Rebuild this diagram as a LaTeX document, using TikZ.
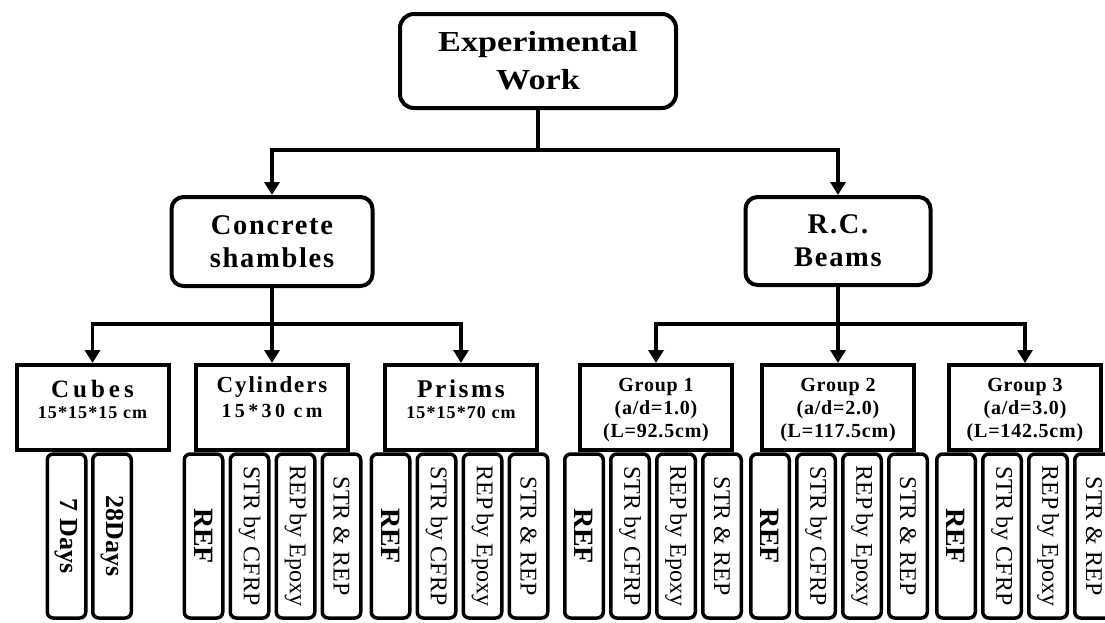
\documentclass[tikz,border=0pt]{standalone}
\usepackage{fontspec}
\setmainfont{Liberation Serif}
\usetikzlibrary{arrows.meta}

\newcommand{\reftxt}{{\fontsize{28}{28}\selectfont\bfseries REF}}

\tikzset{
  head/.style={draw, line width=4pt, rounded corners=14pt, align=center, inner sep=0pt},
  grp/.style={draw, line width=4pt, minimum width=152pt, minimum height=85pt, inner sep=0pt},
  sub/.style={draw, line width=3.5pt, rounded corners=6pt, rotate=-90, minimum width=164pt,
    minimum height=38.5pt, inner sep=0pt, font=\fontsize{24}{24}\selectfont},
  link/.style={line width=3.5pt, -{Triangle[width=15pt,length=13pt]}},
}

\begin{document}
\begin{tikzpicture}[x=1pt, y=-1pt]
  \useasboundingbox (0,0) rectangle (1105,622);

  % Top levels
  \node[head, minimum width=276pt, minimum height=94pt,
    font=\fontsize{29}{38}\selectfont\bfseries\addfontfeature{FakeStretch=1.18}]
    (exp) at (538,61) {Experimental\\Work};
  \node[head, rounded corners=12pt, minimum width=201pt, minimum height=89pt,
    font=\fontsize{28.5}{33}\selectfont\bfseries\addfontfeature{LetterSpace=6}]
    (conc) at (272,241.5) {Concrete\\shambles};
  \node[head, rounded corners=12pt, minimum width=185pt, minimum height=88pt,
    font=\fontsize{28.5}{33}\selectfont\bfseries\addfontfeature{LetterSpace=6}]
    (rc) at (838,241) {R.C.\\Beams};

  % Specimen boxes
  \node[grp] (cubes) at (92.5,407.5) {};
  \node[grp] (cyl) at (272,407.5) {};
  \node[grp] (pri) at (461,407.5) {};
  \node[grp] (ga) at (656,407.5) {};
  \node[grp] (gb) at (838,407.5) {};
  \node[grp] (gc) at (1025,407.5) {};

  \node[align=center, font=\fontsize{25}{21}\selectfont\bfseries\addfontfeature{LetterSpace=16}]
    (cubest) at (92.5,399) {Cubes\\{\fontsize{18}{21}\selectfont\addfontfeature{LetterSpace=6}15*15*15 cm}};
  \node[align=center, font=\fontsize{23}{25}\selectfont\bfseries\addfontfeature{LetterSpace=8}]
    (cylt) at (272,397.5) {Cylinders\\{\fontsize{20}{25}\selectfont\addfontfeature{LetterSpace=17}15*30 cm}};
  \node[align=center, font=\fontsize{25.5}{21}\selectfont\bfseries\addfontfeature{LetterSpace=10}]
    (prit) at (461,399) {Prisms\\{\fontsize{18}{21}\selectfont\addfontfeature{LetterSpace=6}15*15*70 cm}};
  \node[align=center, font=\fontsize{20}{23}\selectfont\bfseries\addfontfeature{LetterSpace=4}]
    (gat) at (656,410) {Group 1\\(a/d=1.0)\\(L=92.5cm)};
  \node[align=center, font=\fontsize{20}{23}\selectfont\bfseries\addfontfeature{LetterSpace=4}]
    (gbt) at (838,410) {Group 2\\(a/d=2.0)\\(L=117.5cm)};
  \node[align=center, font=\fontsize{20}{23}\selectfont\bfseries\addfontfeature{LetterSpace=4}]
    (gct) at (1025,410) {Group 3\\(a/d=3.0)\\(L=142.5cm)};

  % Test series
  \node[sub, font=\fontsize{26}{26}\selectfont\bfseries] (cub0) at (66.5,536) {7 Days};
  \node[sub, font=\fontsize{26}{26}\selectfont\bfseries] (cub1) at (112,536) {28Days};
  \foreach \g/\x in {cyl/203.5, pri/390.5, ga/584, gb/770, gc/956}
    \foreach \t [count=\i from 0] in {\reftxt, STR by CFRP, REP\,by Epoxy, STR \& REP}
      \node[sub] (\g\i) at (\x+46*\i,536) {\t};

  % Arrows
  \draw[link] (exp.south) -- ++(0,40) -| (conc.north);
  \draw[link] (exp.south) -- ++(0,40) -| (rc.north);
  \draw[link] (conc.south) -- ++(0,36) -| (cubes.north);
  \draw[link] (conc.south) -- (cyl.north);
  \draw[link] (conc.south) -- ++(0,36) -| (pri.north);
  \draw[link] (rc.south) -- ++(0,37) -| (ga.north);
  \draw[link] (rc.south) -- (gb.north);
  \draw[link] (rc.south) -- ++(0,37) -| (gc.north);
\end{tikzpicture}
\end{document}
